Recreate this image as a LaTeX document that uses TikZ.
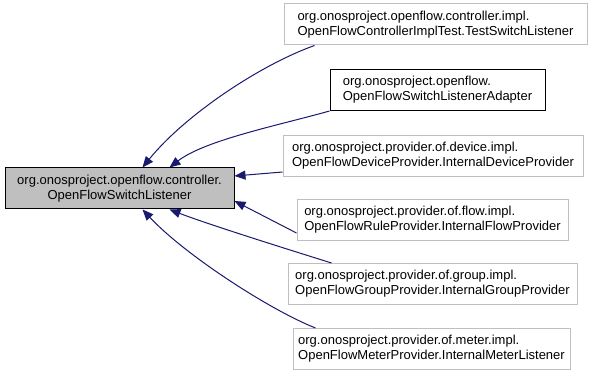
\documentclass[tikz,border=0pt]{standalone}
\usepackage{fontspec}
\setmainfont{Liberation Sans}
\usetikzlibrary{arrows.meta}
\definecolor{edgeblue}{HTML}{191970}
\definecolor{boxgray}{HTML}{BFBFBF}
\begin{document}
\begin{tikzpicture}[x=1pt,y=-1pt,
  cls/.style={draw=boxgray,line width=1pt,fill=white,inner sep=0pt,align=left,
    minimum height=41pt,font=\fontsize{13}{15}\selectfont},
  base/.style={cls,align=center,draw=black,fill=boxgray},
  plain/.style={cls,draw=black},
  inherit/.style={draw=edgeblue,line width=1pt,
    {Triangle[length=11pt,width=9pt,fill=edgeblue]}-}]
\useasboundingbox (0,0) rectangle (595,377);
\fill[white] (0,0) rectangle (595,377);

\node[base, minimum width=229pt] (L) at (119.5,188.5)
  {org.onosproject.openflow.controller.\\OpenFlowSwitchListener};

\node[cls, minimum width=303pt] (N1) at (435.5,24.5)
  {org.onosproject.openflow.controller.impl.\\OpenFlowControllerImplTest.TestSwitchListener};
\node[plain, minimum width=215pt] (N2) at (437.5,90)
  {org.onosproject.openflow.\\OpenFlowSwitchListenerAdapter};
\node[cls, minimum width=300pt] (N3) at (433,156)
  {org.onosproject.provider.of.device.impl.\\OpenFlowDeviceProvider.InternalDeviceProvider};
\node[cls, minimum width=271pt] (N4) at (432.5,220)
  {org.onosproject.provider.of.flow.impl.\\OpenFlowRuleProvider.InternalFlowProvider};
\node[cls, minimum width=289pt] (N5) at (432.5,284)
  {org.onosproject.provider.of.group.impl.\\OpenFlowGroupProvider.InternalGroupProvider};
\node[cls, minimum width=277pt] (N6) at (431.5,349)
  {org.onosproject.provider.of.meter.impl.\\OpenFlowMeterProvider.InternalMeterListener};

% inheritance edges, arrowheads at the base class
\draw[inherit] ([xshift=138pt]L.north west) .. controls (185,115) and (260,65) .. ([xshift=31pt]N1.south west);
\draw[inherit] ([xshift=165pt]L.north west) .. controls (205,140) and (280,125) .. (N2.south west);
\draw[inherit] ([yshift=12.5pt]L.east) -- ([yshift=-16pt]N3.west);
\draw[inherit] ([yshift=-12.5pt]L.east) -- ([yshift=-13pt]N4.west);
\draw[inherit] ([xshift=165pt]L.south west) .. controls (210,225) and (290,250) .. ([xshift=44pt]N5.north west);
\draw[inherit] ([xshift=138pt]L.south west) .. controls (185,255) and (270,310) .. ([xshift=23pt]N6.north west);
\end{tikzpicture}
\end{document}
